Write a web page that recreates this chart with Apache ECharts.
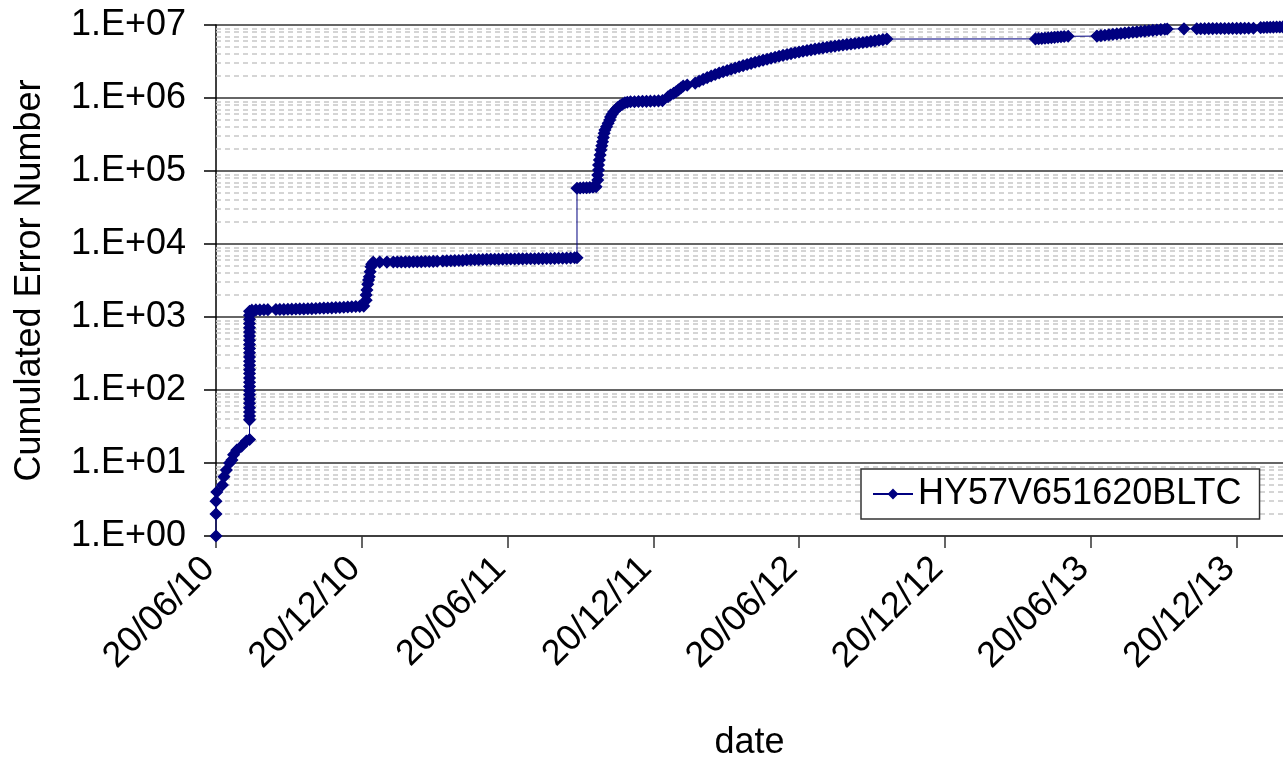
<!DOCTYPE html>
<html>
<head>
<meta charset="utf-8">
<title>Cumulated Error Number</title>
<script src="https://cdn.jsdelivr.net/npm/echarts@6/dist/echarts.min.js"></script>
<style>
  html, body { margin: 0; padding: 0; background: #fff; }
  #chart { width: 1283px; height: 758px; }
</style>
</head>
<body>
<div id="chart"></div>
<script>
// x values are days since 20/06/2010, y values are cumulated errors
const seriesName = "HY57V651620BLTC";

const xTickLabels = ["20/06/10", "20/12/10", "20/06/11", "20/12/11", "20/06/12", "20/12/12", "20/06/13", "20/12/13"];
const yTickLabels = ["1.E+00", "1.E+01", "1.E+02", "1.E+03", "1.E+04", "1.E+05", "1.E+06", "1.E+07"];

const startRamp = [
  [0, 1], [0, 2], [0, 3], [1, 4], [8, 5], [10, 6.5], [13, 8], [17, 10], [20, 11],
  [22, 13], [26, 15], [32, 17], [38, 20], [42, 21]
];

const firstBurst = [
  [42, 39], [42, 44], [42, 50], [42, 57], [42, 66], [42, 75], [42, 86], [42, 98], [42, 112],
  [42, 128], [42, 146], [42, 168], [42, 190], [42, 218], [42, 248], [42, 284], [42, 323],
  [42, 370], [42, 420], [42, 480], [42, 550], [42, 625], [42, 715], [42, 815], [42, 930],
  [42, 1060], [42, 1200]
];

const firstPlateau = [
  [45, 1240], [50, 1250], [55, 1250], [60, 1255], [65, 1260], [75, 1265], [80, 1270],
  [85, 1270], [90, 1275], [95, 1280], [100, 1285], [105, 1290], [110, 1290], [115, 1295],
  [120, 1300], [125, 1310], [130, 1320], [135, 1325], [140, 1330], [145, 1335], [150, 1345],
  [155, 1350], [160, 1360], [165, 1370], [170, 1380], [175, 1390], [180, 1400], [185, 1410]
];

const secondStep = [
  [188, 1700], [188, 2000], [189, 2350], [190, 2800], [191, 3200], [192, 3550], [193, 4170],
  [194, 4870], [195, 5300], [197, 5640], [205, 5645], [214, 5650]
];

const secondPlateau = [
  [222, 5660], [227, 5670], [232, 5680], [237, 5690], [242, 5700], [247, 5710], [252, 5720],
  [257, 5730], [262, 5750], [267, 5760], [272, 5780], [277, 5800], [284, 5850], [289, 5880],
  [294, 5900], [299, 5920], [304, 5940], [309, 5960], [314, 6050], [319, 6080], [324, 6100],
  [329, 6120], [334, 6140], [339, 6160], [344, 6170], [349, 6180], [354, 6200], [359, 6210],
  [364, 6220], [369, 6230], [374, 6240], [379, 6250], [384, 6260], [389, 6270], [394, 6280],
  [399, 6290], [404, 6300], [409, 6310], [414, 6320], [419, 6340], [424, 6350], [429, 6370],
  [434, 6390], [439, 6410], [444, 6440], [449, 6480], [452, 6500]
];

const thirdStep = [
  [452, 58000], [456, 58500], [460, 59000], [464, 59000], [468, 59500], [472, 60000],
  [476, 61000], [478, 75000], [478, 88000], [479, 103000], [479, 121000], [480, 142000],
  [481, 166000], [482, 194000], [483, 221000], [484, 252000], [485, 288000], [486, 328000],
  [487, 365000], [489, 405000], [491, 450000], [493, 500000], [494, 550000], [496, 598000],
  [498, 646000], [501, 700000], [503, 740000], [506, 785000], [509, 825000], [512, 860000],
  [515, 875000], [519, 890000]
];

const thirdPlateau = [
  [524, 890000], [529, 895000], [534, 900000], [539, 900000], [544, 905000], [549, 910000],
  [554, 915000], [559, 920000], [566, 1040000], [569, 1100000], [573, 1160000],
  [576, 1220000], [579, 1290000], [582, 1370000], [585, 1460000], [590, 1500000]
];

const longGrowth = [
  [600, 1.60e6], [605, 1.70e6], [610, 1.80e6], [615, 1.90e6], [620, 2.00e6], [625, 2.10e6],
  [630, 2.20e6], [635, 2.29e6], [640, 2.38e6], [645, 2.48e6], [650, 2.58e6], [655, 2.68e6],
  [660, 2.78e6], [665, 2.88e6], [670, 2.98e6], [675, 3.09e6], [680, 3.19e6], [685, 3.30e6],
  [690, 3.40e6], [695, 3.51e6], [700, 3.62e6], [705, 3.73e6], [710, 3.84e6], [715, 3.95e6],
  [720, 4.06e6], [725, 4.17e6], [730, 4.27e6], [735, 4.37e6], [740, 4.47e6], [745, 4.57e6],
  [750, 4.67e6], [755, 4.77e6], [760, 4.86e6], [765, 4.95e6], [770, 5.05e6], [775, 5.14e6],
  [780, 5.23e6], [785, 5.33e6], [790, 5.42e6], [795, 5.50e6], [800, 5.59e6], [805, 5.67e6],
  [810, 5.76e6], [815, 5.86e6], [820, 5.96e6], [825, 6.07e6], [830, 6.18e6], [835, 6.30e6],
  [840, 6.42e6]
];

const lateBatches = [
  [1026, 6.45e6], [1030, 6.50e6], [1034, 6.55e6], [1038, 6.60e6], [1042, 6.66e6],
  [1046, 6.72e6], [1050, 6.78e6], [1054, 6.84e6], [1058, 6.90e6], [1062, 6.95e6],
  [1067, 7.00e6],
  [1103, 7.05e6], [1108, 7.15e6], [1113, 7.25e6], [1118, 7.35e6], [1123, 7.45e6],
  [1128, 7.55e6], [1133, 7.65e6], [1138, 7.75e6], [1143, 7.85e6], [1148, 7.95e6],
  [1153, 8.05e6], [1158, 8.15e6], [1163, 8.25e6], [1168, 8.35e6], [1173, 8.45e6],
  [1178, 8.55e6], [1183, 8.65e6], [1188, 8.75e6], [1191, 8.80e6],
  [1212, 8.85e6],
  [1228, 8.88e6], [1233, 8.90e6], [1238, 8.91e6], [1243, 8.92e6], [1248, 8.93e6],
  [1253, 8.94e6], [1258, 8.95e6], [1263, 8.96e6], [1268, 8.97e6], [1273, 8.98e6],
  [1278, 8.99e6], [1283, 9.00e6], [1288, 9.01e6], [1293, 9.02e6], [1299, 9.03e6],
  [1308, 9.20e6], [1312, 9.25e6], [1316, 9.28e6], [1320, 9.31e6], [1324, 9.34e6],
  [1328, 9.37e6], [1332, 9.40e6], [1336, 9.42e6]
];

const halfYear = 182.5;
const lastDay = 1336;

// dashed minor grid lines: 2..9 in every decade
const minorLines = [];
for (let d = 0; d < 7; d++) {
  for (let k = 2; k <= 9; k++) {
    minorLines.push({ yAxis: k * Math.pow(10, d) });
  }
}

const allPoints = [].concat(startRamp, firstBurst, firstPlateau, secondStep, secondPlateau,
  thirdStep, thirdPlateau, longGrowth, lateBatches);

const font = "Arial, 'Liberation Sans', sans-serif";
const myChart = echarts.init(document.getElementById("chart"));

myChart.setOption({
  animation: false,
  backgroundColor: "#fff",
  grid: { left: 216, right: 0, top: 25, bottom: 222, outerBoundsMode: "none", containLabel: false },
  legend: {
    data: [seriesName],
    left: 861,
    top: 469,
    orient: "vertical",
    backgroundColor: "#fff",
    borderColor: "#333",
    borderWidth: 1.5,
    borderRadius: 0,
    padding: [7, 18, 7, 11],
    itemWidth: 40,
    itemHeight: 10,
    textStyle: { fontSize: 36, color: "#000", fontFamily: font },
  },
  xAxis: {
    type: "value",
    min: 0,
    max: lastDay,
    interval: halfYear,
    name: "date",
    nameLocation: "middle",
    nameGap: 189,
    nameTextStyle: { fontSize: 36, color: "#000", fontFamily: font },
    axisLine: { lineStyle: { color: "#333", width: 1.5 } },
    axisTick: { length: 12, lineStyle: { color: "#333", width: 1.5 } },
    axisLabel: {
      rotate: 45,
      margin: 20,
      padding: [0, 10, 0, 0],
      fontSize: 36,
      color: "#000",
      fontFamily: font,
      showMaxLabel: false,
      formatter: (v) => xTickLabels[Math.round(v / halfYear)] || "",
    },
    splitLine: { show: false },
  },
  yAxis: {
    type: "log",
    logBase: 10,
    min: 1,
    max: 1e7,
    name: "Cumulated Error Number",
    nameLocation: "middle",
    nameGap: 168,
    nameTextStyle: { fontSize: 36, color: "#000", fontFamily: font },
    axisLine: { show: true, lineStyle: { color: "#000", width: 1.5 } },
    axisTick: { show: true, length: 12, lineStyle: { color: "#000", width: 1.5 } },
    axisLabel: {
      margin: 30,
      fontSize: 36,
      color: "#000",
      fontFamily: font,
      formatter: (v) => yTickLabels[Math.round(Math.log10(v))] || "",
    },
    splitLine: { lineStyle: { color: "#333", width: 1.5 } },
  },
  series: [
    {
      name: "minor grid",
      type: "line",
      data: [],
      z: 1,
      silent: true,
      markLine: {
        z: 1,
        silent: true,
        symbol: ["none", "none"],
        label: { show: false },
        lineStyle: { color: "#c8c8c8", width: 1.5, type: [5, 4] },
        emphasis: { disabled: true },
        data: minorLines,
      },
    },
    {
      name: seriesName,
      type: "line",
      z: 6,
      data: allPoints,
      symbol: "diamond",
      symbolSize: 11,
      color: "#000080",
      lineStyle: { color: "#000080", width: 1 },
      itemStyle: { color: "#000080", borderColor: "#000080", borderWidth: 1.5 },
    },
  ],
});
</script>
</body>
</html>
